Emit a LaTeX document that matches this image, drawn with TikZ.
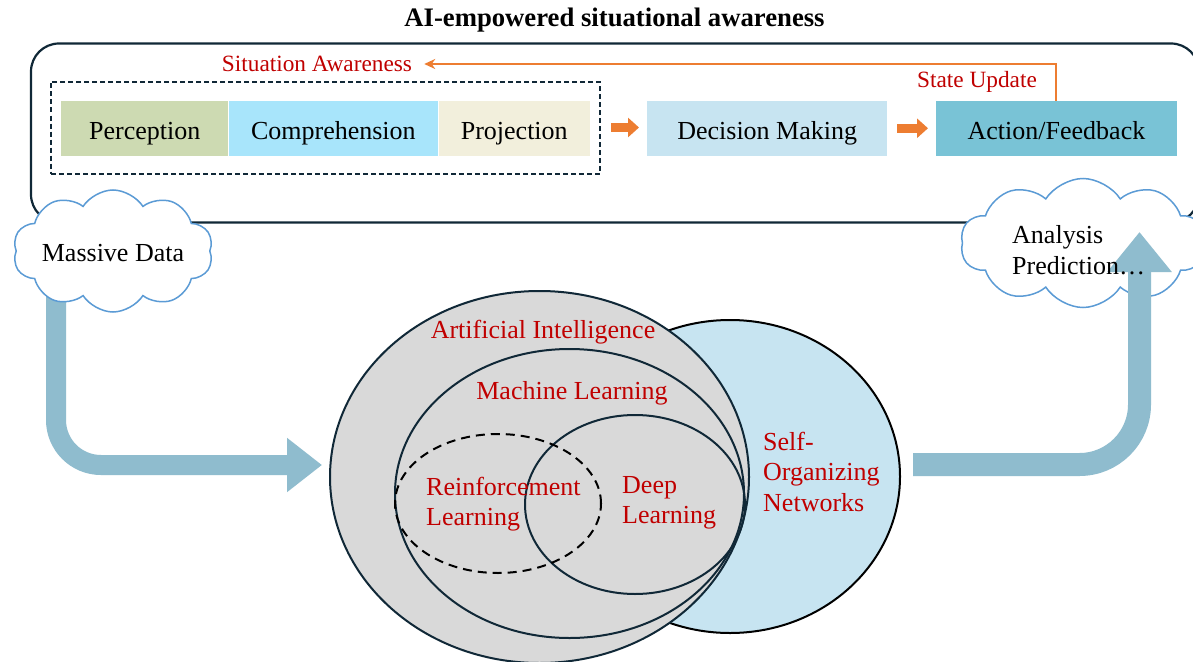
\documentclass[tikz,border=0pt]{standalone}
\usepackage{fontspec}
\setmainfont{Liberation Serif}
\usetikzlibrary{shapes.geometric,shapes.symbols,arrows.meta}
\definecolor{navy}{RGB}{16,40,55}
\definecolor{redtxt}{RGB}{192,0,0}
\definecolor{orng}{RGB}{237,125,49}
\definecolor{percol}{RGB}{205,218,178}
\definecolor{comcol}{RGB}{168,229,251}
\definecolor{procol}{RGB}{242,239,220}
\definecolor{deccol}{RGB}{199,228,241}
\definecolor{actcol}{RGB}{121,195,214}
\definecolor{bigarr}{RGB}{143,188,206}
\definecolor{vgray}{RGB}{217,217,217}
\definecolor{soncol}{RGB}{199,228,241}
\definecolor{cloudline}{RGB}{91,155,213}
\begin{document}
\begin{tikzpicture}[x=1pt,y=-1pt,
  bigtext/.style={font=\fontsize{26}{31}\selectfont},
  redlabel/.style={text=redtxt,font=\fontsize{26}{30.5}\selectfont,inner sep=0pt},
  smallred/.style={text=redtxt,font=\fontsize{23.3}{27}\selectfont,inner sep=0pt},
  stagebox/.style={bigtext,draw=none,minimum height=54.5pt,inner sep=0pt,anchor=west,text height=23pt,text depth=0pt},
  blockarrow/.style={draw=orng,line width=9pt,-{Triangle[length=11pt,width=19pt]}},
  feedback/.style={draw=orng,line width=2pt,-{Stealth[length=11pt,width=10pt]}},
  venn/.style={ellipse,draw=navy,line width=2pt,inner sep=0pt},
  cloudbox/.style={cloud,cloud puffs=10,cloud puff arc=115,draw=cloudline,fill=white,line width=1.5pt,inner sep=0pt},
  flowarrow/.style={draw=bigarr},
]
\fill[white] (0,0) rectangle (1193,661);
\useasboundingbox (0,0) rectangle (1193,661);

% title and frame
\node[font=\bfseries\fontsize{26.7}{30}\selectfont,inner sep=0pt] (title) at (614.5,20) {AI-empowered situational awareness};
\node[draw=navy,line width=2.2pt,rounded corners=28pt,minimum width=1168pt,minimum height=179pt,inner sep=0pt] (frame) at (615,133) {};

% situation awareness stages
\node[draw=navy,line width=2pt,dash pattern=on 5pt off 3pt,minimum width=549pt,minimum height=92pt,inner sep=0pt] (dash) at (325.5,127.5) {};
\node[stagebox,fill=percol,minimum width=167pt] (per) at (61,128.25) {Perception};
\node[stagebox,fill=comcol,minimum width=209.5pt] (com) at (per.east) {Comprehension};
\node[stagebox,fill=procol,minimum width=151.5pt] (pro) at (com.east) {Projection};
\node[stagebox,fill=deccol,minimum width=240pt] (dm) at (647,128.25) {Decision Making};
\node[stagebox,fill=actcol,minimum width=240.5pt] (af) at (936,128.25) {Action/Feedback};

\draw[blockarrow,shorten <=10pt,shorten >=8pt] (dash.east) -- (dash.east -| dm.west);
\draw[blockarrow,shorten <=10pt,shorten >=8pt] (dm.east) -- (af.west);

\node[smallred] (sa) at (317,64) {Situation Awareness};
\node[smallred] (su) at (977,82) {State Update};
\draw[feedback,shorten >=12pt] (af.north) |- (sa.east);

% big flow arrows and clouds
\coordinate (lstart) at (56,290);
\coordinate (lend) at (322,465);
\draw[flowarrow,line width=20pt,rounded corners=45pt,-{Triangle[length=35pt,width=52pt]}] (lstart) -- (56,465) -- (lend);
\node[cloudbox,aspect=1.7,minimum width=200pt,minimum height=122pt] (md) at (113,251) {};
\node[bigtext,inner sep=0pt] (mdt) at ([yshift=-2.5pt]md.center) {Massive Data};

% venn diagram
\node[ellipse,draw=black,line width=2pt,fill=soncol,inner sep=0pt,minimum width=340pt,minimum height=313pt] (son) at (730,476.5) {};
\node[venn,fill=vgray,minimum width=419pt,minimum height=372pt] (ai) at (539.5,477) {};
\node[venn,minimum width=349pt,minimum height=289pt] (ml) at (569.5,493.5) {};
\node[venn,minimum width=220pt,minimum height=179pt] (dl) at (635,504.5) {};
\node[ellipse,draw=black,line width=2pt,dash pattern=on 9pt off 6pt,inner sep=0pt,minimum width=206pt,minimum height=139pt] (rl) at (498,503.5) {};

\node[redlabel] (ait) at (543,332) {Artificial Intelligence};
\node[redlabel] (mlt) at (572,393) {Machine Learning};
\node[redlabel,align=left,anchor=west] (rlt) at (426,504) {Reinforcement\\Learning};
\node[redlabel,align=left,anchor=west] (dlt) at (622,503) {Deep\\Learning};
\node[redlabel,align=left,anchor=west] (sont) at (763,471.5) {Self-\\Organizing\\Networks};

% analysis cloud and right arrow
\node[cloudbox,aspect=1.9,minimum width=245pt,minimum height=129pt] (an) at (1083,243) {};
\coordinate (rstart) at (913,464.5);
\coordinate (rend) at (1139.5,232);
\draw[flowarrow,line width=23pt,rounded corners=60pt,-{Triangle[length=40pt,width=62pt]}] (rstart) -- (1139.5,464.5) -- (rend);
\node[bigtext,align=left,anchor=west,inner sep=0pt] (ant) at (1012,250) {Analysis\\Prediction\ldots};
\end{tikzpicture}
\end{document}
